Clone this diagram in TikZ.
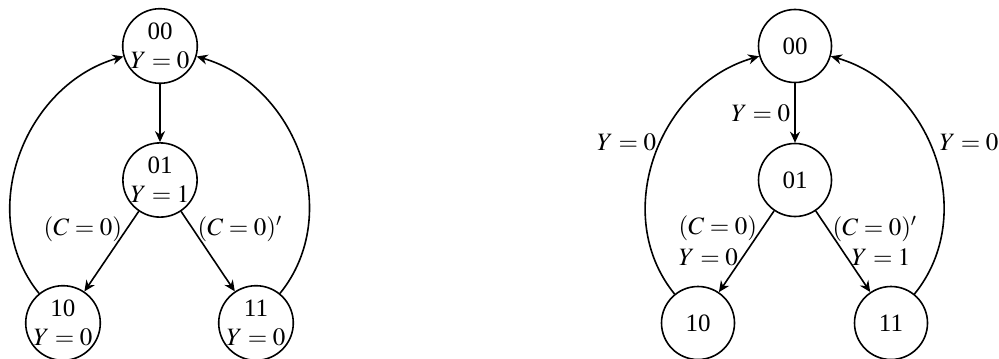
\documentclass[tikz,border=0pt]{standalone}
\usepackage{mathptmx}
\usepackage[no-math]{fontspec}
\setmainfont{Liberation Serif}
\usetikzlibrary{arrows.meta}

\begin{document}
\begin{tikzpicture}[x=0.5pt, y=0.5pt,
    font=\fontsize{12.5}{14.5}\selectfont,
    fsm/.style={circle, draw, line width=0.8pt, minimum size=36.5pt, inner sep=0pt, align=center},
    tr/.style={-{Stealth[length=5.5pt, width=5pt]}, line width=0.8pt},
    lbl/.style={inner sep=2pt}]

    \useasboundingbox (0,0) rectangle (999,-358);

    % Moore-style states (outputs in the states)
    \node[fsm] (a00) at (160,-46)  {00\\$Y=0$};
    \node[fsm] (a01) at (160,-180) {01\\$Y=1$};
    \node[fsm] (a10) at (63,-323)  {10\\$Y=0$};
    \node[fsm] (a11) at (256,-323) {11\\$Y=0$};

    \draw[tr] (a00) -- (a01);
    \draw[tr] (a01) -- node[lbl, left, pos=0.22] {$(C=0)$} (a10);
    \draw[tr] (a01) -- node[lbl, right, pos=0.22] {$(C=0)'$} (a11);
    \draw[tr] (a10) to[out=129, in=196, looseness=1.05] (a00);
    \draw[tr] (a11) to[out=51, in=-16, looseness=1.05] (a00);

    % Mealy-style states (outputs on the transitions)
    \node[fsm] (b00) at (795,-46)  {00};
    \node[fsm] (b01) at (795,-180) {01};
    \node[fsm] (b10) at (698,-323) {10};
    \node[fsm] (b11) at (891,-323) {11};

    \draw[tr] (b00) -- node[lbl, left] {$Y=0$} (b01);
    \draw[tr] (b01) -- node[lbl, left, pos=0.22] {$(C=0)$}
                       node[lbl, left, pos=0.57] {$Y=0$} (b10);
    \draw[tr] (b01) -- node[lbl, right, pos=0.22] {$(C=0)'$}
                       node[lbl, right, pos=0.57] {$Y=1$} (b11);
    \draw[tr] (b10) to[out=129, in=196, looseness=1.05]
        node[lbl, left, pos=0.55] {$Y=0$} (b00);
    \draw[tr] (b11) to[out=51, in=-16, looseness=1.05]
        node[lbl, right, pos=0.55, inner sep=5pt] {$Y=0$} (b00);

\end{tikzpicture}
\end{document}
